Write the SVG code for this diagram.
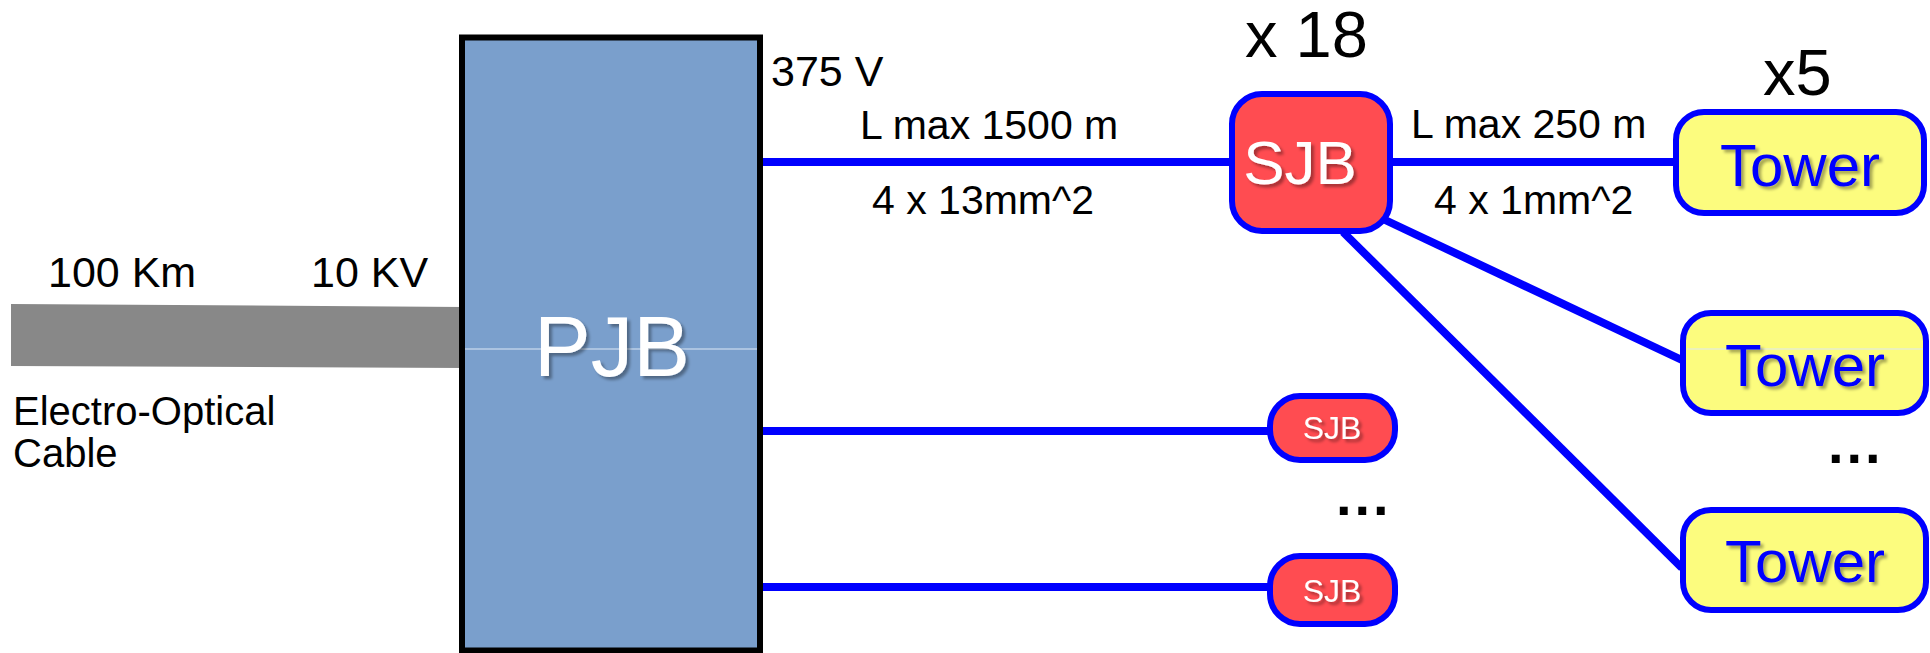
<svg xmlns="http://www.w3.org/2000/svg" width="1930" height="653" viewBox="0 0 1930 653">
<defs>
<filter id="sh" x="-20%" y="-20%" width="140%" height="150%">
<feDropShadow dx="3" dy="3" stdDeviation="1.5" flood-color="#000" flood-opacity="0.35"/>
</filter>
</defs>
<style>
.lbl{font-family:"Liberation Sans",Arial,sans-serif;fill:#000}
.wire{stroke:#0000FF;stroke-width:8;fill:none}
.sjb{fill:#FF4C51;stroke:#0000FF;stroke-width:6}
.tower{fill:#FCFC7E;stroke:#0000FF;stroke-width:6}
.wt{font-family:"Liberation Sans",Arial,sans-serif;fill:#fff;text-anchor:middle;filter:url(#sh)}
.bt{font-family:"Liberation Sans",Arial,sans-serif;fill:#0000FF;text-anchor:middle;filter:url(#sh)}
.guide{stroke:#DDE8F6;stroke-width:1}
.dots{font-family:"Liberation Sans",Arial,sans-serif;font-weight:bold;font-size:56px;letter-spacing:3px;fill:#000}
</style>
<rect width="1930" height="653" fill="#fff"/>

<g id="cable">
<polygon points="11,304 464,307 464,368 11,366" fill="#888888"/>
<text class="lbl" x="48" y="287" font-size="43">100 Km</text>
<text class="lbl" x="311" y="287" font-size="43">10 KV</text>
<text class="lbl" x="13" y="425" font-size="40">Electro-Optical</text>
<text class="lbl" x="13" y="467" font-size="40">Cable</text>
</g>

<g id="connectors">
<line class="wire" x1="760" y1="162" x2="1234" y2="162"/>
<line class="wire" x1="1390" y1="162" x2="1678" y2="162"/>
<line class="wire" x1="1383" y1="219" x2="1684" y2="361"/>
<line class="wire" x1="1343" y1="232" x2="1682" y2="568"/>
<line class="wire" x1="760" y1="431" x2="1272" y2="431"/>
<line class="wire" x1="760" y1="587" x2="1272" y2="587"/>
</g>

<g id="pjb">
<rect x="462" y="37.5" width="298" height="613" fill="#7A9FCC" stroke="#000" stroke-width="6"/>
<line class="guide" x1="465" y1="349" x2="757" y2="349"/>
<text class="wt" x="612" y="376" font-size="85">PJB</text>
</g>

<g id="labels">
<text class="lbl" x="771" y="86" font-size="43">375 V</text>
<text class="lbl" x="860" y="139" font-size="41">L max 1500 m</text>
<text class="lbl" x="872" y="214" font-size="41">4 x 13mm^2</text>
<text class="lbl" x="1245" y="57" font-size="65">x 18</text>
<text class="lbl" x="1763" y="95" font-size="65">x5</text>
<text class="lbl" x="1411" y="138" font-size="41">L max 250 m</text>
<text class="lbl" x="1434" y="214" font-size="41">4 x 1mm^2</text>
</g>

<g id="sjb-main">
<rect class="sjb" x="1232" y="94" width="158" height="137" rx="30" ry="30"/>
<text class="wt" x="1300" y="184" font-size="62">SJB</text>
</g>

<g id="sjb-2">
<rect class="sjb" x="1270" y="396" width="125" height="64" rx="30" ry="30" stroke-width="5"/>
<text class="wt" x="1332" y="439" font-size="32">SJB</text>
</g>

<g id="sjb-3">
<rect class="sjb" x="1270" y="556" width="125" height="68" rx="30" ry="30" stroke-width="5"/>
<text class="wt" x="1332" y="602" font-size="32">SJB</text>
</g>

<g id="tower-1">
<rect class="tower" x="1676" y="112" width="248" height="101" rx="28" ry="28"/>
<text class="bt" x="1800" y="186" font-size="60">Tower</text>
</g>

<g id="tower-2">
<rect class="tower" x="1683" y="313" width="243" height="100" rx="28" ry="28"/>
<line class="guide" x1="1687" y1="349" x2="1923" y2="349" stroke="#FFFFE8"/>
<text class="bt" x="1805" y="386" font-size="60">Tower</text>
</g>

<g id="tower-3">
<rect class="tower" x="1683" y="510" width="243" height="100" rx="28" ry="28"/>
<text class="bt" x="1805" y="582" font-size="60">Tower</text>
</g>

<g id="ellipses">
<text class="dots" x="1336" y="515">...</text>
<text class="dots" x="1828" y="463">...</text>
</g>
</svg>
